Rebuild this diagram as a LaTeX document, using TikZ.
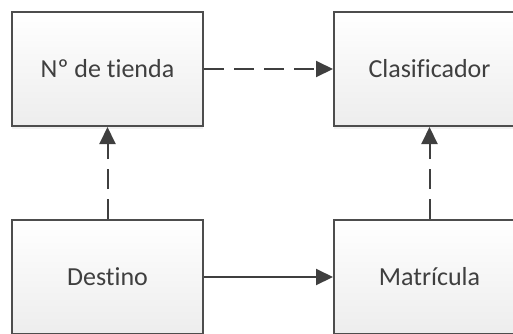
\documentclass[tikz,border=0pt]{standalone}
\usepackage{fontspec}
\setmainfont{Carlito}[RawFeature={-liga;-clig;-calt;-dlig}]
\usetikzlibrary{arrows.meta,shadows}
\definecolor{edge}{HTML}{4D4D4D}
\definecolor{ink}{HTML}{3F3F3F}
\definecolor{fillbot}{HTML}{EDEDED}
\begin{document}
\begin{tikzpicture}[x=1pt,y=-1pt,
  box/.style={draw=edge, line width=2pt, top color=white, bottom color=fillbot,
    minimum width=191pt, minimum height=114pt, inner sep=0pt,
    font=\fontsize{26}{30}\selectfont, text=ink,
    drop shadow={opacity=0.12, shadow xshift=0pt, shadow yshift=-2.5pt}},
  flow/.style={draw=ink, line width=2pt, -{Triangle[length=17pt,width=16pt]}},
  dashedflow/.style={flow, dash pattern=on 20pt off 10pt}]
\useasboundingbox (0,0) rectangle (513,333);
% four blocks
\node[box] (tienda) at (107.5,69) {Nº de tienda};
\node[box] (clasif) at (429.5,69) {Clasificador};
\node[box] (destino) at (107.5,277) {Destino};
\node[box] (matric) at (429.5,277) {Matrícula};
% connectors
\draw[dashedflow] (tienda.east) -- (clasif.west);
\draw[dashedflow] (destino.north) -- (tienda.south);
\draw[dashedflow] (matric.north -| clasif.south) -- (clasif.south);
\draw[flow] (destino.east) -- (matric.west);
\end{tikzpicture}
\end{document}
